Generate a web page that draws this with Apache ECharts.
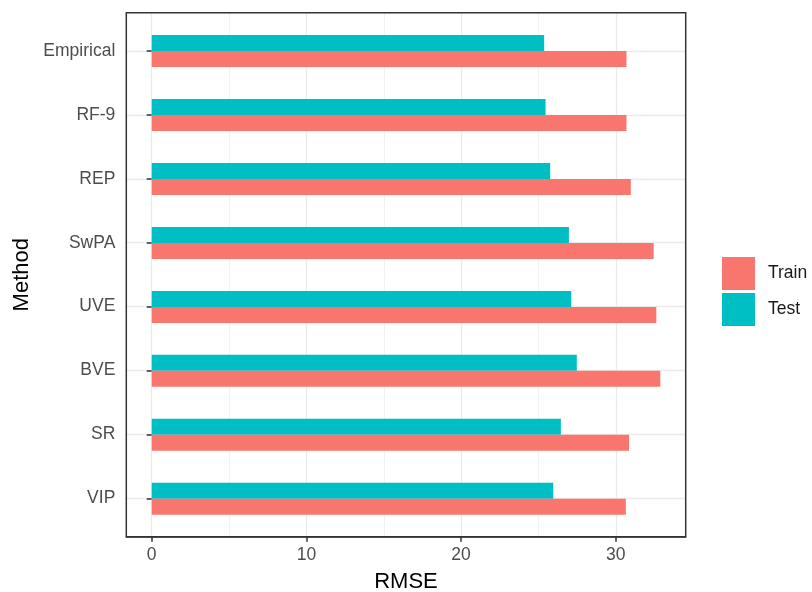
<!DOCTYPE html>
<html>
<head>
<meta charset="utf-8">
<script src="https://cdn.jsdelivr.net/npm/echarts@6/dist/echarts.min.js"></script>
<style>
  html, body { margin: 0; padding: 0; background: #fff; }
  #chart { width: 812px; height: 592px; }
</style>
</head>
<body>
<div id="chart"></div>
<script>
// methods from bottom to top (category axis order)
const methods = ['VIP', 'SR', 'BVE', 'UVE', 'SwPA', 'REP', 'RF-9', 'Empirical'];
const trainRmse = [30.65, 30.86, 32.88, 32.62, 32.45, 30.97, 30.69, 30.69];
const testRmse = [25.96, 26.45, 27.48, 27.12, 26.97, 25.76, 25.46, 25.37];
const xTicks = [0, 10, 20, 30];
const xMinorTicks = [5, 15, 25];
const yPositions = [1, 2, 3, 4, 5, 6, 7, 8];

// ggplot style expansion
const xMin = -1.644;
const xMax = 34.52;

const chart = echarts.init(document.getElementById('chart'));
const font = 'Liberation Sans, Arial, sans-serif';

const option = {
  animation: false,
  textStyle: { fontFamily: font },
  color: ['#00BFC4', '#F8766D'],
  legend: {
    orient: 'vertical',
    left: 722,
    top: 257,
    padding: 0,
    itemWidth: 33,
    itemHeight: 33,
    itemGap: 3,
    icon: 'rect',
    data: ['Train', 'Test'],
    textStyle: { fontSize: 17.5, color: '#1a1a1a', padding: [0, 0, 0, 8] }
  },
  grid: [
    // bars
    { left: 126.3, right: 126.3, top: 19.1, bottom: 61.3, outerBoundsMode: 'none' },
    // panel frame
    { left: 126.3, right: 126.3, top: 12.7, bottom: 55.3, outerBoundsMode: 'none', show: true, borderColor: '#333', borderWidth: 1.5, backgroundColor: 'transparent', z: 5 }
  ],
  xAxis: [
    { gridIndex: 0, type: 'value', min: xMin, max: xMax, show: false },
    {
      gridIndex: 1, type: 'value', min: xMin, max: xMax,
      name: 'RMSE', nameLocation: 'middle', nameGap: 34,
      nameTextStyle: { fontSize: 22, color: '#000' },
      axisLine: { show: true, lineStyle: { color: '#333', width: 1.5 } },
      axisTick: { show: true, length: 5, customValues: xTicks, lineStyle: { color: '#333', width: 1.5 } },
      axisLabel: { customValues: xTicks, margin: 9, fontSize: 17.5, color: '#4D4D4D' },
      splitLine: { show: true, lineStyle: { color: '#EBEBEB', width: 1.3 } }
    },
    {
      gridIndex: 1, type: 'value', min: xMin, max: xMax,
      axisLine: { show: false },
      axisTick: { show: false, customValues: xMinorTicks },
      axisLabel: { show: false, customValues: xMinorTicks },
      splitLine: { show: true, lineStyle: { color: '#F2F2F2', width: 1 } }
    }
  ],
  yAxis: [
    { gridIndex: 0, type: 'category', data: methods, show: false },
    {
      gridIndex: 1, type: 'value', min: 0.4, max: 8.6,
      name: 'Method', nameLocation: 'middle', nameGap: 92,
      nameTextStyle: { fontSize: 22, color: '#000' },
      axisLine: { show: false },
      axisTick: { show: true, length: 5, customValues: yPositions, lineStyle: { color: '#333', width: 1.5 } },
      axisLabel: {
        customValues: yPositions, margin: 11, fontSize: 17.5, color: '#4D4D4D',
        formatter: v => methods[Math.round(v) - 1] || ''
      },
      splitLine: { show: true, lineStyle: { color: '#EBEBEB', width: 1.3 } }
    }
  ],
  series: [
    {
      name: 'Test', type: 'bar', xAxisIndex: 0, yAxisIndex: 0,
      barWidth: 16, barGap: '0%', z: 3,
      data: testRmse
    },
    {
      name: 'Train', type: 'bar', xAxisIndex: 0, yAxisIndex: 0,
      barWidth: 16, barGap: '0%', z: 3,
      data: trainRmse
    }
  ]
};

chart.setOption(option);
</script>
</body>
</html>
